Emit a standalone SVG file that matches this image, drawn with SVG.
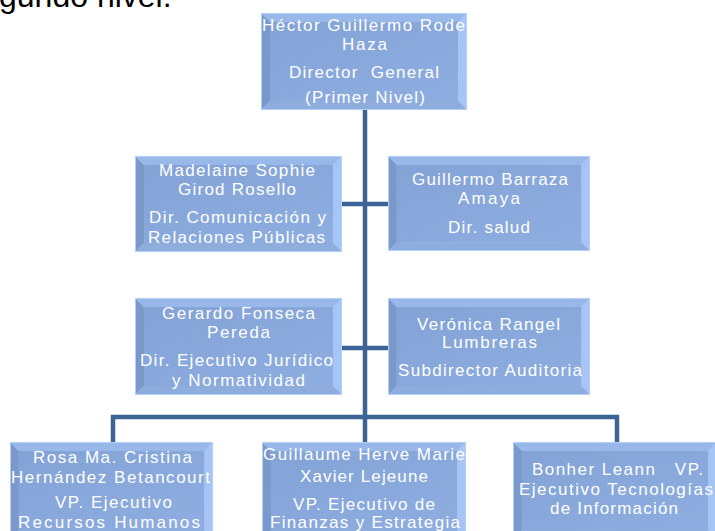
<svg xmlns="http://www.w3.org/2000/svg" xmlns:xlink="http://www.w3.org/1999/xlink" width="715" height="531" viewBox="0 0 715 531">
<style>
.t{font-family:"Liberation Sans",Arial,sans-serif;font-size:17px;fill:#ffffff;white-space:pre;}
.hdr{font-family:"Liberation Sans",Arial,sans-serif;font-size:32px;fill:#000000;}
.c{stroke:#3e6497;stroke-width:4.5;fill:none;stroke-linecap:butt;}
</style>
<defs>
<linearGradient id="g" x1="0" y1="0" x2="1" y2="1">
<stop offset="0" stop-color="#83a2d5"/>
<stop offset="1" stop-color="#8eaee1"/>
</linearGradient>
<symbol id="box" viewBox="0 0 206 97" preserveAspectRatio="none">
<rect x="0" y="0" width="206" height="97" fill="#a9c7f5"/>
<polygon points="0,0 9,9 9,88 0,97" fill="#7b98ca"/>
<polygon points="0,0 206,0 197,9 9,9" fill="#98b8ea"/>
<polygon points="206,0 206,97 197,88 197,9" fill="#a6c5f6"/>
<polygon points="0,97 9,88 197,88 206,97" fill="#8eacdc"/>
<rect x="9" y="9" width="188" height="79" fill="url(#g)"/>
<rect x="0.5" y="0.5" width="205" height="96" fill="none" stroke="#b3d0fa" stroke-width="1"/>
</symbol>
</defs>
<text class="hdr" x="-1" y="7">gundo nivel.</text>
<g id="connectors">
<line class="c" x1="365" y1="110" x2="365" y2="417"/>
<line class="c" x1="341" y1="204" x2="388" y2="204"/>
<line class="c" x1="341" y1="348" x2="388" y2="348"/>
<line class="c" x1="111" y1="417" x2="619" y2="417"/>
<line class="c" x1="113" y1="415" x2="113" y2="442"/>
<line class="c" x1="617" y1="415" x2="617" y2="442"/>
<line class="c" x1="365" y1="415" x2="365" y2="442"/>
</g>
<g id="n-hector">
<use xlink:href="#box" href="#box" x="261" y="13" width="206" height="97"/>
<text class="t" x="262" y="31" textLength="203" lengthAdjust="spacing">Héctor Guillermo Rode</text>
<text class="t" x="342" y="50" textLength="45" lengthAdjust="spacing">Haza</text>
<text class="t" x="289" y="78" textLength="150" lengthAdjust="spacing">Director  General</text>
<text class="t" x="305" y="103" textLength="120" lengthAdjust="spacing">(Primer Nivel)</text>
</g>
<g id="n-madelaine">
<use xlink:href="#box" href="#box" x="135" y="156" width="207" height="96"/>
<text class="t" x="159" y="176" textLength="156" lengthAdjust="spacing">Madelaine Sophie</text>
<text class="t" x="178" y="195" textLength="118" lengthAdjust="spacing">Girod Rosello</text>
<text class="t" x="149" y="223" textLength="177" lengthAdjust="spacing">Dir. Comunicación y</text>
<text class="t" x="148" y="243" textLength="177" lengthAdjust="spacing">Relaciones Públicas</text>
</g>
<g id="n-guillermo">
<use xlink:href="#box" href="#box" x="388" y="156" width="202" height="95"/>
<text class="t" x="412" y="185" textLength="156" lengthAdjust="spacing">Guillermo Barraza</text>
<text class="t" x="458" y="204" textLength="62" lengthAdjust="spacing">Amaya</text>
<text class="t" x="448" y="233" textLength="82" lengthAdjust="spacing">Dir. salud</text>
</g>
<g id="n-gerardo">
<use xlink:href="#box" href="#box" x="135" y="298" width="207" height="97"/>
<text class="t" x="162" y="319" textLength="153" lengthAdjust="spacing">Gerardo Fonseca</text>
<text class="t" x="207" y="338" textLength="63" lengthAdjust="spacing">Pereda</text>
<text class="t" x="140" y="366" textLength="193" lengthAdjust="spacing">Dir. Ejecutivo Jurídico</text>
<text class="t" x="172" y="386" textLength="133" lengthAdjust="spacing">y Normatividad</text>
</g>
<g id="n-veronica">
<use xlink:href="#box" href="#box" x="388" y="298" width="202" height="97"/>
<text class="t" x="417" y="330" textLength="143" lengthAdjust="spacing">Verónica Rangel</text>
<text class="t" x="442" y="348" textLength="95" lengthAdjust="spacing">Lumbreras</text>
<text class="t" x="398" y="376" textLength="184" lengthAdjust="spacing">Subdirector Auditoria</text>
</g>
<g id="n-rosa">
<use xlink:href="#box" href="#box" x="10" y="442" width="203" height="97"/>
<text class="t" x="33" y="463" textLength="159" lengthAdjust="spacing">Rosa Ma. Cristina</text>
<text class="t" x="11" y="483" textLength="199" lengthAdjust="spacing">Hernández Betancourt</text>
<text class="t" x="55" y="508" textLength="117" lengthAdjust="spacing">VP. Ejecutivo</text>
<text class="t" x="18" y="528" textLength="182" lengthAdjust="spacing">Recursos Humanos</text>
</g>
<g id="n-guillaume">
<use xlink:href="#box" href="#box" x="262" y="442" width="204" height="97"/>
<text class="t" x="263" y="460" textLength="202" lengthAdjust="spacing">Guillaume Herve Marie</text>
<text class="t" x="300" y="482" textLength="128" lengthAdjust="spacing">Xavier Lejeune</text>
<text class="t" x="293" y="510" textLength="142" lengthAdjust="spacing">VP. Ejecutivo de</text>
<text class="t" x="270" y="528" textLength="190" lengthAdjust="spacing">Finanzas y Estrategia</text>
</g>
<g id="n-bonher">
<use xlink:href="#box" href="#box" x="513" y="442" width="204" height="97"/>
<text class="t" x="532" y="475" textLength="171" lengthAdjust="spacing">Bonher Leann   VP.</text>
<text class="t" x="519" y="495" textLength="194" lengthAdjust="spacing">Ejecutivo Tecnologías</text>
<text class="t" x="550" y="514" textLength="128" lengthAdjust="spacing">de Información</text>
</g>
</svg>
